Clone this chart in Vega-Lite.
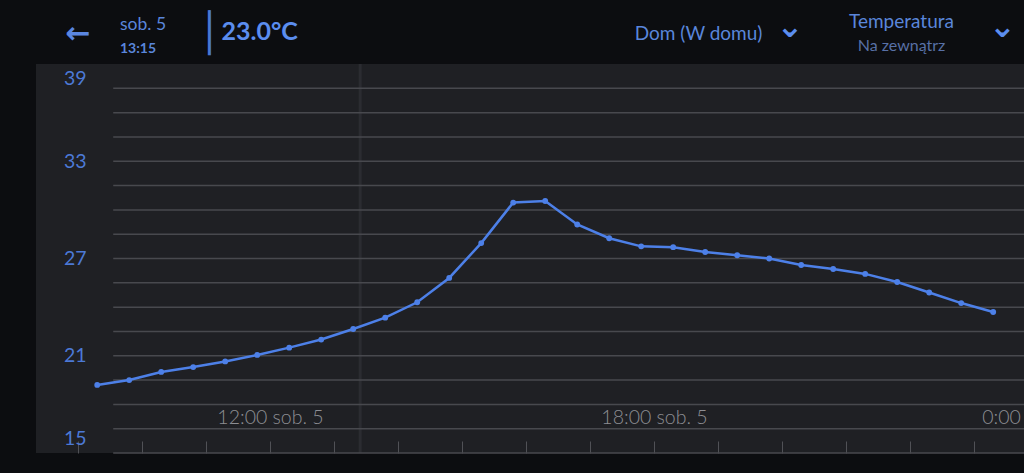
{
  "$schema": "https://vega.github.io/schema/vega-lite/v6.json",
  "width": 988,
  "height": 389,
  "autosize": {"type": "none"},
  "padding": {"left": 36, "top": 64, "right": 0, "bottom": 20},
  "background": "#0c0d10",
  "title": {
    "text": "sob. 5",
    "subtitle": "13:15",
    "anchor": "start",
    "frame": "group",
    "dx": 84,
    "dy": 60,
    "baseline": "alphabetic",
    "font": "Lato",
    "fontSize": 17.5,
    "fontWeight": "normal",
    "color": "#5a86db",
    "subtitleFont": "Lato",
    "subtitleFontSize": 14,
    "subtitleFontWeight": "bold",
    "subtitleColor": "#5a86db",
    "subtitlePadding": 6,
    "offset": 0
  },
  "datasets": {
    "temps": [
      {"t": "2023-08-05T09:18:00", "temp": 19.2},
      {"t": "2023-08-05T09:48:00", "temp": 19.5},
      {"t": "2023-08-05T10:18:00", "temp": 20.0},
      {"t": "2023-08-05T10:48:00", "temp": 20.3},
      {"t": "2023-08-05T11:18:00", "temp": 20.65},
      {"t": "2023-08-05T11:48:00", "temp": 21.05},
      {"t": "2023-08-05T12:18:00", "temp": 21.5},
      {"t": "2023-08-05T12:48:00", "temp": 22.0},
      {"t": "2023-08-05T13:18:00", "temp": 22.65},
      {"t": "2023-08-05T13:48:00", "temp": 23.35},
      {"t": "2023-08-05T14:18:00", "temp": 24.3},
      {"t": "2023-08-05T14:48:00", "temp": 25.8},
      {"t": "2023-08-05T15:18:00", "temp": 27.95},
      {"t": "2023-08-05T15:48:00", "temp": 30.45},
      {"t": "2023-08-05T16:18:00", "temp": 30.55},
      {"t": "2023-08-05T16:48:00", "temp": 29.1},
      {"t": "2023-08-05T17:18:00", "temp": 28.25},
      {"t": "2023-08-05T17:48:00", "temp": 27.75},
      {"t": "2023-08-05T18:18:00", "temp": 27.7},
      {"t": "2023-08-05T18:48:00", "temp": 27.4},
      {"t": "2023-08-05T19:18:00", "temp": 27.2},
      {"t": "2023-08-05T19:48:00", "temp": 27.0},
      {"t": "2023-08-05T20:18:00", "temp": 26.6},
      {"t": "2023-08-05T20:48:00", "temp": 26.35},
      {"t": "2023-08-05T21:18:00", "temp": 26.05},
      {"t": "2023-08-05T21:48:00", "temp": 25.55},
      {"t": "2023-08-05T22:18:00", "temp": 24.9},
      {"t": "2023-08-05T22:48:00", "temp": 24.25},
      {"t": "2023-08-05T23:18:00", "temp": 23.7}
    ],
    "grid": [
      {"v": 15}, {"v": 16.5}, {"v": 18}, {"v": 19.5}, {"v": 21}, {"v": 22.5},
      {"v": 24}, {"v": 25.5}, {"v": 27}, {"v": 28.5}, {"v": 30}, {"v": 31.5},
      {"v": 33}, {"v": 34.5}, {"v": 36}, {"v": 37.5}
    ]
  },
  "layer": [
    {
      "data": {"values": [{}]},
      "mark": {"type": "rule", "color": "#2b2c31", "strokeWidth": 3},
      "encoding": {
        "x": {
          "datum": {"year": 2023, "month": 8, "date": 5, "hours": 13, "minutes": 24, "seconds": 30},
          "type": "temporal",
          "scale": {"domain": [{"year": 2023, "month": 8, "date": 5, "hours": 8, "minutes": 20, "seconds": 37}, {"year": 2023, "month": 8, "date": 6, "hours": 0}], "range": [0, 1002]},
          "axis": {"orient": "top", "title": "⌄", "titleX": 966, "titleY": -38, "titleAlign": "center", "titleBaseline": "middle", "titleFont": "DejaVu Sans", "titleFontWeight": "bold", "titleFontSize": 32, "titleColor": "#5b8def"}
        },
        "y": {
          "datum": 15,
          "type": "quantitative",
          "scale": {"domain": [15, 39], "nice": false, "zero": false},
          "axis": {"orient": "left", "title": "│", "titleX": 173, "titleY": -30, "titleAngle": 0, "titleAlign": "center", "titleBaseline": "middle", "titleFont": "DejaVu Sans Mono", "titleFontWeight": "normal", "titleFontSize": 38, "titleColor": "#4a78d4"}
        },
        "y2": {"datum": 39}
      }
    },
    {
      "data": {"name": "grid"},
      "mark": {"type": "rule", "color": "#48494e", "strokeWidth": 1.5},
      "encoding": {
        "x": {
          "datum": {"year": 2023, "month": 8, "date": 5, "hours": 9, "minutes": 33},
          "type": "temporal",
          "scale": {"domain": [{"year": 2023, "month": 8, "date": 5, "hours": 8, "minutes": 20, "seconds": 37}, {"year": 2023, "month": 8, "date": 6, "hours": 0}], "range": [0, 1002]},
          "axis": {"orient": "top", "title": "Temperatura", "titleX": 865, "titleY": -36.5, "titleAlign": "center", "titleBaseline": "alphabetic", "titleFont": "Lato", "titleFontWeight": "normal", "titleFontSize": 19, "titleColor": "#5a86db"}
        },
        "x2": {"datum": {"year": 2023, "month": 8, "date": 6, "hours": 0}},
        "y": {
          "field": "v",
          "type": "quantitative",
          "scale": {"domain": [15, 39], "nice": false, "zero": false},
          "axis": {"orient": "left", "title": "Na zewnątrz", "titleX": 865, "titleY": -14, "titleAngle": 0, "titleAlign": "center", "titleBaseline": "alphabetic", "titleFont": "Lato", "titleFontWeight": "normal", "titleFontSize": 16, "titleColor": "#5870a6"}
        }
      }
    },
    {
      "data": {"name": "temps"},
      "mark": {"type": "line", "color": "#4d80e8", "strokeWidth": 2.5},
      "encoding": {
        "x": {
          "field": "t",
          "type": "temporal",
          "scale": {"domain": [{"year": 2023, "month": 8, "date": 5, "hours": 8, "minutes": 20, "seconds": 37}, {"year": 2023, "month": 8, "date": 6, "hours": 0}], "range": [0, 1002]},
          "axis": {
            "orient": "bottom",
            "values": [
              {"year": 2023, "month": 8, "date": 5, "hours": 9},
              {"year": 2023, "month": 8, "date": 5, "hours": 10},
              {"year": 2023, "month": 8, "date": 5, "hours": 11},
              {"year": 2023, "month": 8, "date": 5, "hours": 12},
              {"year": 2023, "month": 8, "date": 5, "hours": 13},
              {"year": 2023, "month": 8, "date": 5, "hours": 14},
              {"year": 2023, "month": 8, "date": 5, "hours": 15},
              {"year": 2023, "month": 8, "date": 5, "hours": 16},
              {"year": 2023, "month": 8, "date": 5, "hours": 17},
              {"year": 2023, "month": 8, "date": 5, "hours": 18},
              {"year": 2023, "month": 8, "date": 5, "hours": 19},
              {"year": 2023, "month": 8, "date": 5, "hours": 20},
              {"year": 2023, "month": 8, "date": 5, "hours": 21},
              {"year": 2023, "month": 8, "date": 5, "hours": 22},
              {"year": 2023, "month": 8, "date": 5, "hours": 23},
              {"year": 2023, "month": 8, "date": 6, "hours": 0}
            ],
            "labels": true,
            "ticks": true,
            "tickSize": -12,
            "tickColor": "#505156",
            "tickWidth": 1,
            "labelExpr": "hours(datum.value) == 12 ? '12:00 sob. 5' : hours(datum.value) == 18 ? '18:00 sob. 5' : hours(datum.value) == 0 ? '0:00' : ''",
            "labelOffset": {"condition": {"test": "hours(datum.value) == 0", "value": -37}, "value": 0},
            "labelColor": "#8d8e93",
            "labelFont": "Lato",
            "labelFontSize": 19.5,
            "labelFontWeight": 300,
            "labelBaseline": "middle",
            "labelAlign": "center",
            "labelPadding": -24,
            "labelFlush": false,
            "labelOverlap": false,
            "labelBound": false,
            "labelLimit": 300,
            "title": "23.0°C",
            "titleX": 185,
            "titleY": -413.5,
            "titleAlign": "left",
            "titleBaseline": "alphabetic",
            "titleFont": "Lato",
            "titleFontWeight": "bold",
            "titleFontSize": 25,
            "titleColor": "#5b8def"
          }
        },
        "y": {
          "field": "temp",
          "type": "quantitative",
          "scale": {"domain": [15, 39], "nice": false, "zero": false},
          "axis": {
            "orient": "left",
            "values": [15, 21, 27, 33, 39],
            "labels": true,
            "labelAlign": "right",
            "labelPadding": -50,
            "labelFlush": true,
            "labelFlushOffset": -5,
            "labelColor": "#4c79d6",
            "labelFont": "Lato",
            "labelFontSize": 19.5,
            "title": "←",
            "titleX": 41.5,
            "titleY": -31,
            "titleAngle": 0,
            "titleAlign": "center",
            "titleBaseline": "middle",
            "titleFont": "DejaVu Sans",
            "titleFontWeight": "bold",
            "titleFontSize": 30,
            "titleColor": "#5a86e0"
          }
        }
      }
    },
    {
      "data": {"name": "temps"},
      "mark": {"type": "point", "filled": true, "color": "#4d80e8", "size": 34, "opacity": 1},
      "encoding": {
        "x": {
          "field": "t",
          "type": "temporal",
          "scale": {"domain": [{"year": 2023, "month": 8, "date": 5, "hours": 8, "minutes": 20, "seconds": 37}, {"year": 2023, "month": 8, "date": 6, "hours": 0}], "range": [0, 1002]},
          "axis": {"orient": "top", "title": "Dom (W domu)", "titleX": 662, "titleY": -25, "titleAlign": "center", "titleBaseline": "alphabetic", "titleFont": "Lato", "titleFontWeight": "normal", "titleFontSize": 19, "titleColor": "#5a86db"}
        },
        "y": {
          "field": "temp",
          "type": "quantitative",
          "scale": {"domain": [15, 39], "nice": false, "zero": false},
          "axis": {"orient": "left", "title": "⌄", "titleX": 753.5, "titleY": -38, "titleAngle": 0, "titleAlign": "center", "titleBaseline": "middle", "titleFont": "DejaVu Sans", "titleFontWeight": "bold", "titleFontSize": 32, "titleColor": "#5b8def"}
        }
      }
    }
  ],
  "resolve": {"axis": {"x": "independent", "y": "independent"}},
  "config": {
    "axis": {"domain": false, "ticks": false, "labels": false, "grid": false, "titlePadding": 0},
    "view": {"fill": "#1f2024", "stroke": null},
    "font": "Lato"
  }
}
